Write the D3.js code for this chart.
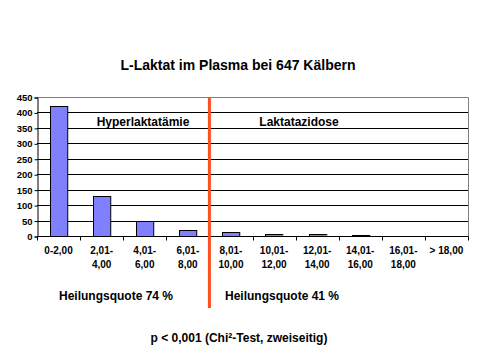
<!DOCTYPE html>
<html>
<head>
<meta charset="utf-8">
<script src="https://cdn.jsdelivr.net/npm/d3@7"></script>
<style>
  body { margin: 0; background: white; }
  svg text { font-family: "Liberation Sans", Arial, sans-serif; font-weight: bold; fill: black; }
</style>
</head>
<body>
<div id="vis"></div>
<script>
// Kategorien (mmol/l) und Anzahl Kälber
const categories = ["0-2,00", "2,01-|4,00", "4,01-|6,00", "6,01-|8,00", "8,01-|10,00",
                    "10,01-|12,00", "12,01-|14,00", "14,01-|16,00", "16,01-|18,00", "> 18,00"];
const counts = [420, 128, 50, 21, 14, 7, 6, 2, 0, 0];
const yTicks = [0, 50, 100, 150, 200, 250, 300, 350, 400, 450];
const splitAfter = 4; // Grenze zwischen Hyperlaktatämie und Laktatazidose

let w = 480, h = 361;
let m = {left: 37, right: 12, top: 97, bottom: 125};

let svg = d3.select("#vis").append("svg")
    .attr("width", w)
    .attr("height", h);

let x = d3.scaleBand()
    .domain(categories)
    .range([m.left, w - m.right])
    .paddingInner(0.6)
    .paddingOuter(0.3);

let y = d3.scaleLinear()
    .domain([0, 450])
    .range([h - m.bottom, m.top]);

// gridlines
svg.append("g")
    .selectAll("line")
    .data(yTicks.filter(d => d > 0 && d < 450))
    .enter().append("line")
    .attr("x1", m.left)
    .attr("x2", w - m.right)
    .attr("y1", d => Math.round(y(d)) + 0.5)
    .attr("y2", d => Math.round(y(d)) + 0.5)
    .attr("stroke", "black")
    .attr("stroke-width", 1);

// frame top / right grey
svg.append("path")
    .attr("d", "M" + m.left + "," + (Math.round(y(450)) + 0.5) + "H" + (w - m.right + 0.5) + "V" + y(0))
    .attr("fill", "none")
    .attr("stroke", "#808080");

// bars
svg.append("g")
    .selectAll("rect")
    .data(counts)
    .enter().append("rect")
    .attr("x", (d, i) => Math.round(x(categories[i])) + 0.5)
    .attr("y", d => Math.round(y(d)) + 0.5)
    .attr("width", x.bandwidth())
    .attr("height", d => Math.max(0, Math.round(y(0)) - Math.round(y(d))))
    .attr("fill", "#8080ff")
    .attr("stroke", "black")
    .attr("stroke-width", 1)
    .style("display", d => d > 0 ? null : "none");

// y axis
let yAxis = svg.append("g")
    .attr("transform", "translate(" + (m.left + 0.5) + ",0.5)")
    .call(d3.axisLeft(y).tickValues(yTicks).tickSize(3).tickPadding(2));
yAxis.selectAll("text").style("font-size", "9.5px");
yAxis.selectAll("line,path").attr("stroke", "black");

// x axis with ticks at band boundaries
let y0 = Math.round(y(0)) + 0.5;
svg.append("line")
    .attr("x1", m.left).attr("x2", w - m.right + 0.5)
    .attr("y1", y0).attr("y2", y0)
    .attr("stroke", "black");
let bounds = d3.range(categories.length + 1).map(i => m.left + i * (w - m.left - m.right) / categories.length);
svg.append("g")
    .selectAll("line")
    .data(bounds)
    .enter().append("line")
    .attr("x1", d => Math.round(d) + 0.5)
    .attr("x2", d => Math.round(d) + 0.5)
    .attr("y1", y0)
    .attr("y2", y0 + 4)
    .attr("stroke", "black");

let xl = svg.append("g")
    .selectAll("text")
    .data(categories)
    .enter().append("text")
    .attr("x", d => x(d) + x.bandwidth() / 2)
    .attr("y", 254)
    .attr("text-anchor", "middle")
    .style("font-size", "10px");
xl.each(function(d) {
    let parts = d.split("|");
    let t = d3.select(this);
    parts.forEach(function(p, k) {
        t.append("tspan")
            .attr("x", t.attr("x"))
            .attr("dy", k == 0 ? 0 : 14)
            .text(p);
    });
});

// red divider
let xDiv = (x(categories[splitAfter - 1]) + x.bandwidth() + x(categories[splitAfter])) / 2;
svg.append("line")
    .attr("x1", xDiv).attr("x2", xDiv)
    .attr("y1", m.top)
    .attr("y2", 308)
    .attr("stroke", "#ff5020")
    .attr("stroke-width", 3);

// title
svg.append("text")
    .attr("x", 238)
    .attr("y", 70)
    .attr("text-anchor", "middle")
    .style("font-size", "14px")
    .text("L-Laktat im Plasma bei 647 Kälbern");

svg.append("text")
    .attr("x", 143).attr("y", 126)
    .attr("text-anchor", "middle")
    .style("font-size", "12px")
    .text("Hyperlaktatämie");
svg.append("text")
    .attr("x", 299).attr("y", 126)
    .attr("text-anchor", "middle")
    .style("font-size", "12px")
    .text("Laktatazidose");

svg.append("text")
    .attr("x", 59).attr("y", 300)
    .style("font-size", "12px")
    .text("Heilungsquote 74 %");
svg.append("text")
    .attr("x", 225).attr("y", 300)
    .style("font-size", "12px")
    .text("Heilungsquote 41 %");

svg.append("text")
    .attr("x", 239).attr("y", 342)
    .attr("text-anchor", "middle")
    .style("font-size", "12px")
    .text("p < 0,001 (Chi²-Test, zweiseitig)");
</script>
</body>
</html>
